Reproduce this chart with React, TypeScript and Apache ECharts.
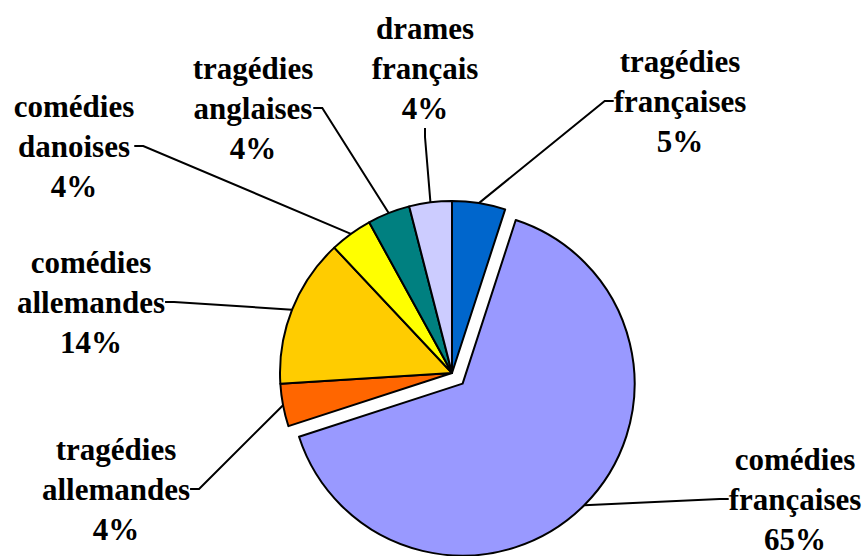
import React, { useEffect, useRef } from "react";
import * as echarts from "echarts";

const categories = [
  "tragédies françaises",
  "comédies françaises",
  "tragédies allemandes",
  "comédies allemandes",
  "comédies danoises",
  "tragédies anglaises",
  "drames français",
];
const shares = [5, 65, 4, 14, 4, 4, 4];
const colors = ["#0066CC", "#9999FF", "#FF6600", "#FFCC00", "#FFFF00", "#008080", "#CCCCFF"];
const explodedIndex = 1;

// layout (not data)
const CX = 452;
const CY = 373;
const R = 172;
const EXPLODE = 15;
const TICK = 9;
const labelX = [680, 795, 116, 91, 74, 253, 425];
const labelY = [101, 499, 489, 302, 146, 108, 68];

export default function App() {
  const ref = useRef<HTMLDivElement>(null);
  useEffect(() => {
    document.body.style.margin = "0";
    const chart = echarts.init(ref.current!, null, { renderer: "svg" });

    const total = shares.reduce((a, b) => a + b, 0);
    const before = shares.slice(0, explodedIndex).reduce((a, b) => a + b, 0);
    const mid = ((before + shares[explodedIndex] / 2) / total) * 2 * Math.PI;
    const offX = EXPLODE * Math.sin(mid);
    const offY = -EXPLODE * Math.cos(mid);

    const transparent = { color: "rgba(0,0,0,0)", borderWidth: 0 };

    const common = {
      type: "pie",
      radius: R,
      startAngle: 90,
      clockwise: true,
      avoidLabelOverlap: false,
      percentPrecision: 0,
      emphasis: { disabled: true },
    };

    chart.setOption({
      animation: false,
      backgroundColor: "#ffffff",
      series: [
        {
          ...common,
          center: [CX, CY],
          itemStyle: { borderColor: "#000", borderWidth: 2 },
          label: {
            show: true,
            position: "outside",
            fontFamily: "Liberation Serif",
            fontWeight: "bold",
            fontSize: 31,
            lineHeight: 40,
            color: "#000",
            align: "center",
            formatter: (p: any) => `${p.name.replace(" ", "\n")}\n${p.percent}%`,
          },
          labelLine: {
            show: true,
            length: 10,
            length2: TICK,
            minTurnAngle: 20,
            lineStyle: { color: "#000", width: 2 },
          },
          labelLayout: (params: any) => {
            const i = params.dataIndex;
            const out: any = {
              x: labelX[i],
              y: labelY[i],
              align: "center",
              verticalAlign: "middle",
            };
            if (i === explodedIndex && params.labelLinePoints) {
              const a = params.labelLinePoints[0];
              const w = params.labelRect.width;
              const left = labelX[i] - w / 2;
              out.labelLinePoints = [
                [a[0] + offX, a[1] + offY],
                [left - TICK, labelY[i]],
                [left, labelY[i]],
              ];
            }
            return out;
          },
          data: categories.map((name, i) => ({
            name,
            value: shares[i],
            itemStyle: i === explodedIndex ? transparent : { color: colors[i] },
          })),
        },
        {
          ...common,
          silent: true,
          center: [CX + offX, CY + offY],
          itemStyle: { borderColor: "#000", borderWidth: 2 },
          label: { show: false },
          labelLine: { show: false },
          data: categories.map((name, i) => ({
            name,
            value: shares[i],
            itemStyle: i === explodedIndex ? { color: colors[i] } : transparent,
          })),
        },
      ],
    });
    return () => chart.dispose();
  }, []);
  return <div ref={ref} style={{ width: 868, height: 556 }} />;
}
